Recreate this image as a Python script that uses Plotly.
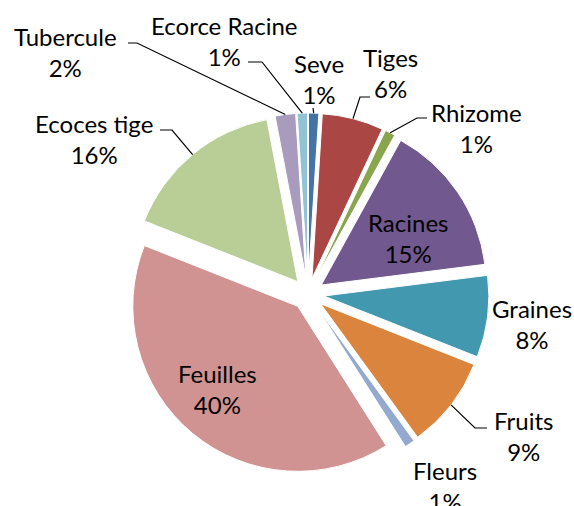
import math
import plotly.graph_objects as go

# Share of each plant part (percent), clockwise from 12 o'clock
parts = ["Seve", "Tiges", "Rhizome", "Racines", "Graines", "Fruits",
         "Fleurs", "Feuilles", "Ecoces tige", "Tubercule", "Ecorce Racine"]
shares = [1, 6, 1, 15, 8, 9, 1, 40, 16, 2, 1]
colors = ["#4572A7", "#AA4643", "#89A54E", "#71588F", "#4198AF", "#DB843D",
          "#93A9CF", "#D19392", "#B9CD96", "#A99BBD", "#91C3D5"]

W, H = 574, 506
CX, CY = 308, 294          # pie centre in pixels
R = 165                    # pie radius in pixels
PULL = 0.097               # explosion, as a fraction of the radius
FONT = dict(family="Lato, 'Liberation Sans', Arial, sans-serif", size=24, color="#000000")

# text block centres (pixels) and the leader-line elbow points near each label
label_pos = {
    "Tubercule": (65, 52), "Ecorce Racine": (224, 41), "Seve": (319, 79),
    "Tiges": (390, 73), "Rhizome": (476, 128), "Racines": (408, 238),
    "Graines": (532, 324), "Fruits": (523, 436), "Fleurs": (445, 486),
    "Feuilles": (217, 389), "Ecoces tige": (94, 139),
}
leader_elbows = {
    "Tubercule": [(128, 43), (137, 43)],
    "Ecorce Racine": [(248, 62), (262, 62)],
    "Seve": [(313, 108)],
    "Tiges": [(370, 97), (360, 97)],
    "Rhizome": [(427, 118), (417, 118)],
    "Fruits": [(487, 428), (475, 428)],
    "Ecoces tige": [(160, 130), (172, 130)],
}


def px(x, y):
    return x / W, 1 - y / H


half = R * (1 + PULL)
fig = go.Figure(go.Pie(
    labels=parts, values=shares, sort=False, direction="clockwise", rotation=0,
    pull=[PULL] * len(parts), textinfo="none", hoverinfo="label+percent",
    marker=dict(colors=colors, line=dict(color="#FFFFFF", width=1)),
    domain=dict(x=[(CX - half) / W, (CX + half) / W],
                y=[1 - (CY + half) / H, 1 - (CY - half) / H]),
    showlegend=False,
))

total = sum(shares)
cum = 0
shapes, annotations = [], []
for name, v in zip(parts, shares):
    mid = (cum + v / 2) / total * 2 * math.pi
    cum += v
    pct = round(v / total * 100)
    lx, ly = label_pos[name]
    ax, ay = px(lx, ly)
    annotations.append(dict(x=ax, y=ay, xref="paper", yref="paper",
                            text=f"{name}<br>{pct}%", showarrow=False,
                            xanchor="center", yanchor="middle", align="center",
                            font=FONT))
    if name in leader_elbows:
        ex = CX + R * (1 + PULL) * math.sin(mid)
        ey = CY - R * (1 + PULL) * math.cos(mid)
        pts = leader_elbows[name] + [(ex, ey)]
        path = "M " + " L ".join(f"{px(x, y)[0]:.5f},{px(x, y)[1]:.5f}" for x, y in pts)
        shapes.append(dict(type="path", path=path, xref="paper", yref="paper",
                           line=dict(color="#000000", width=1.2)))

fig.update_layout(width=W, height=H, margin=dict(l=0, r=0, t=0, b=0),
                  paper_bgcolor="#FFFFFF", plot_bgcolor="#FFFFFF",
                  shapes=shapes, annotations=annotations)
fig.write_html("out.html")
